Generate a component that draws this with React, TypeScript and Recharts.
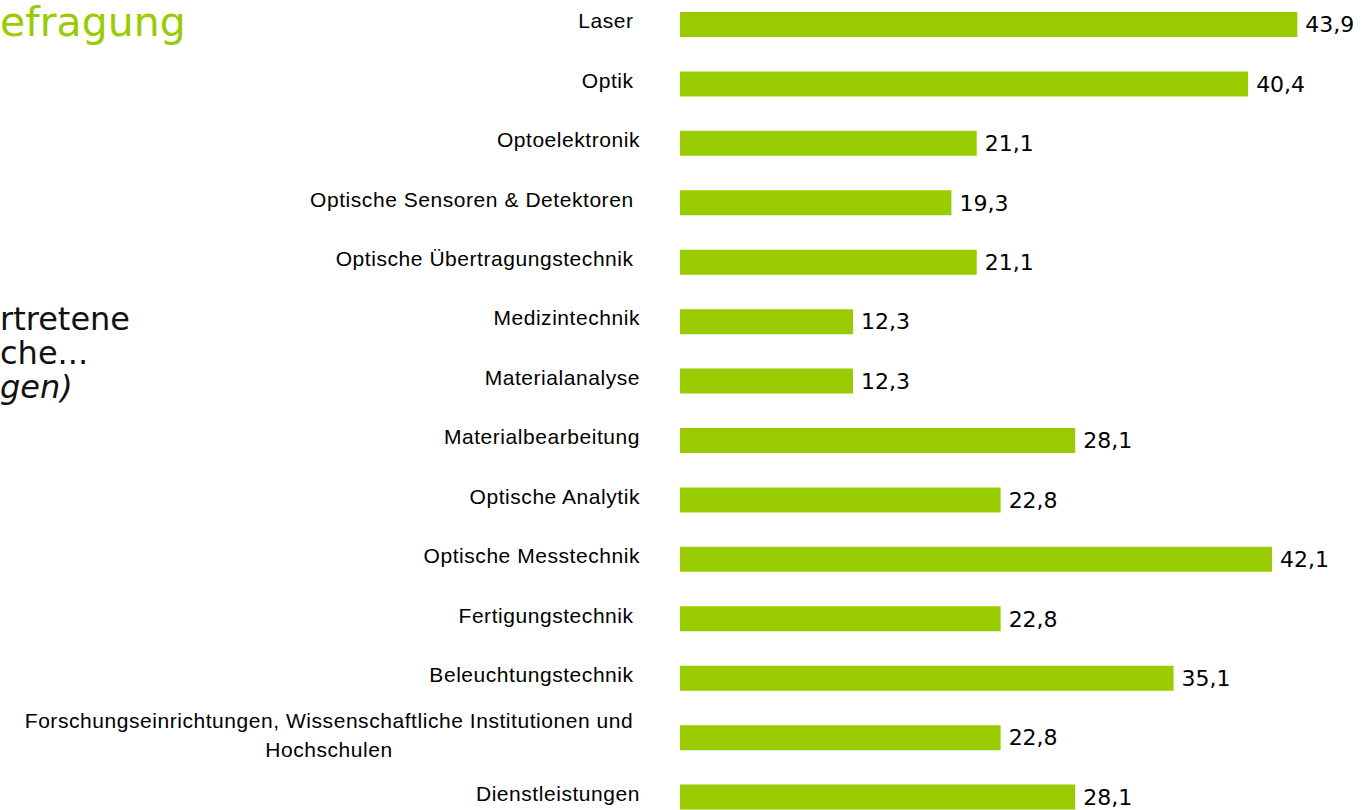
import { BarChart, Bar, XAxis, YAxis, LabelList } from 'recharts';

// categories as they appear in the source slide (some carry a trailing space)
const categories = [
  'Laser ',
  'Optik ',
  'Optoelektronik',
  'Optische Sensoren & Detektoren ',
  'Optische Übertragungstechnik ',
  'Medizintechnik',
  'Materialanalyse',
  'Materialbearbeitung',
  'Optische Analytik',
  'Optische Messtechnik',
  'Fertigungstechnik ',
  'Beleuchtungstechnik ',
  'Forschungseinrichtungen, Wissenschaftliche Institutionen und Hochschulen',
  'Dienstleistungen',
];

const shares = [43.9, 40.4, 21.1, 19.3, 21.1, 12.3, 12.3, 28.1, 22.8, 42.1, 22.8, 35.1, 22.8, 28.1];

const titleText = 'efragung';
const sideLines = ['rtretene', 'che...', 'gen)'];

const data = categories.map((name, i) => ({ name, value: shares[i] }));

const GREEN = '#99CC00';
const LABEL_RIGHT = 640;
const WRAP_CENTER = 329;
const MAX_CHARS = 60;

function wrap(text: string) {
  const words = text.split(' ');
  const lines: string[] = [];
  let cur = '';
  for (const w of words) {
    const next = cur ? cur + ' ' + w : w;
    if (next.length > MAX_CHARS && cur) {
      lines.push(cur);
      cur = w;
    } else {
      cur = next;
    }
  }
  if (cur) lines.push(cur);
  return lines;
}

const tickStyle = {
  fontFamily: '"Liberation Sans", Arial, sans-serif',
  fontSize: 21,
  letterSpacing: 0.55,
  fill: '#000',
  whiteSpace: 'pre' as const,
};

function CategoryTick(props: any) {
  const { y, payload } = props;
  const lines = wrap(payload.value);
  if (lines.length === 1) {
    return (
      <text x={LABEL_RIGHT} y={y + 3.5} textAnchor="end" style={tickStyle}>
        {payload.value}
      </text>
    );
  }
  return (
    <text textAnchor="middle" style={tickStyle}>
      {lines.map((l, i) => (
        <tspan key={i} x={WRAP_CENTER} y={y - 9.6 + i * 29}>
          {l}
        </tspan>
      ))}
    </text>
  );
}

const fmt = (v: any) => Number(v).toFixed(1).replace('.', ',');

export default function App() {
  return (
    <div style={{ position: 'absolute', left: 0, top: 0, width: 1364, height: 810, overflow: 'hidden', background: '#fff' }}>
      <div style={{ position: 'absolute', left: 0, top: -6 }}>
        <BarChart
          width={1364}
          height={840}
          data={data}
          layout="vertical"
          margin={{ top: 1, right: 9, bottom: 7, left: 0 }}
        >
          <XAxis type="number" domain={[0, 48]} hide />
          <YAxis
            type="category"
            dataKey="name"
            width={680}
            axisLine={false}
            tickLine={false}
            interval={0}
            tick={<CategoryTick />}
          />
          <Bar dataKey="value" fill={GREEN} barSize={25} isAnimationActive={false}>
            <LabelList
              dataKey="value"
              position="right"
              offset={8}
              formatter={fmt}
              style={{ fontFamily: '"DejaVu Sans", Verdana, sans-serif', fontSize: 22, fill: '#000' }}
            />
          </Bar>
        </BarChart>
      </div>
      <svg
        width={1364}
        height={810}
        style={{ position: 'absolute', left: 0, top: 0, pointerEvents: 'none' }}
      >
        <text x={0} y={36} fill={GREEN} style={{ fontFamily: '"DejaVu Sans", Verdana, sans-serif', fontSize: 41 }}>
          {titleText}
        </text>
        {sideLines.map((t, i) => (
          <text
            key={t}
            x={0}
            y={330 + i * 34}
            fill="#111"
            style={{
              fontFamily: '"DejaVu Sans", Verdana, sans-serif',
              fontSize: 32,
              fontStyle: i === 2 ? 'italic' : 'normal',
            }}
          >
            {t}
          </text>
        ))}
      </svg>
    </div>
  );
}
